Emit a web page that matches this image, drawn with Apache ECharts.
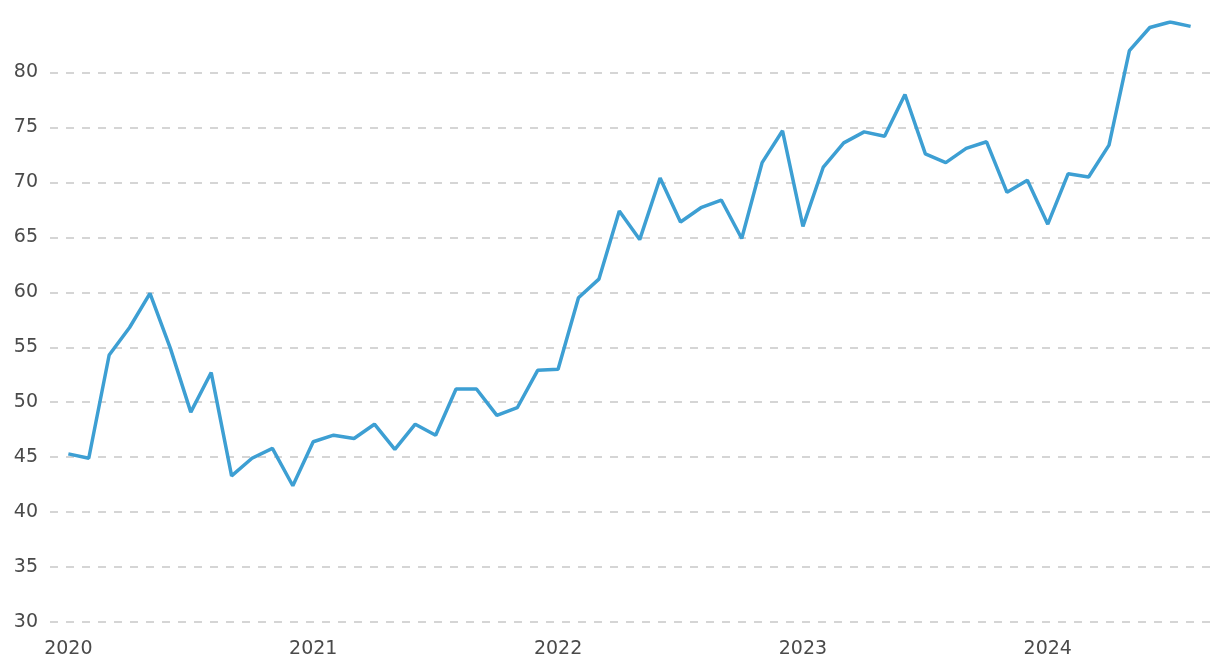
<!DOCTYPE html>
<html>
<head>
<meta charset="utf-8">
<script src="https://cdn.jsdelivr.net/npm/echarts@6/dist/echarts.min.js"></script>
<style>
html,body{margin:0;padding:0;background:#fff;}
#chart{width:1220px;height:672px;}
</style>
</head>
<body>
<div id="chart"></div>
<script>
// Monthly values, Jan 2020 .. Aug 2024
const startYear = 2020;
const values = [
  45.3, 44.9, 54.3, 56.8, 59.9, 54.9, 49.1, 52.7, 43.3, 44.9, 45.8, 42.4,
  46.4, 47.0, 46.7, 48.0, 45.7, 48.0, 47.0, 51.2, 51.2, 48.8, 49.5, 52.9,
  53.0, 59.5, 61.2, 67.4, 64.8, 70.4, 66.4, 67.7, 68.4, 64.9, 71.8, 74.7,
  66.0, 71.4, 73.6, 74.6, 74.2, 78.0, 72.6, 71.8, 73.1, 73.7, 69.1, 70.2,
  66.2, 70.8, 70.5, 73.4, 82.0, 84.1, 84.6, 84.2
];
const yearTicks = [0, 12, 24, 36, 48];
const yTicks = [30, 35, 40, 45, 50, 55, 60, 65, 70, 75, 80];

const seriesData = values.map((v, i) => [i, v]);

const chart = echarts.init(document.getElementById('chart'), null, {renderer: 'canvas'});
chart.setOption({
  animation: false,
  backgroundColor: '#ffffff',
  grid: {left: 50, right: 10, top: 22, bottom: 50, containLabel: false},
  xAxis: {
    type: 'value',
    min: -0.9,
    max: 55.95,
    axisLine: {show: false},
    axisTick: {show: false},
    splitLine: {show: false},
    axisLabel: {
      customValues: yearTicks,
      formatter: v => String(startYear + Math.round(v / 12)),
      color: '#4a4a4a',
      fontFamily: 'DejaVu Sans',
      fontSize: 19,
      margin: 18
    }
  },
  yAxis: {
    type: 'value',
    min: yTicks[0],
    max: 'dataMax',
    interval: 5,
    axisLine: {show: false},
    axisTick: {show: false},
    axisLabel: {
      color: '#4a4a4a',
      fontFamily: 'DejaVu Sans',
      fontSize: 19,
      margin: 12,
      showMaxLabel: false
    },
    splitLine: {
      show: true,
      showMaxLine: false,
      lineStyle: {color: '#c8c8c8', width: 1.5, type: [8, 8]}
    }
  },
  series: [{
    type: 'line',
    data: seriesData,
    showSymbol: false,
    symbol: 'none',
    lineStyle: {color: '#3d9fd3', width: 3.5},
    itemStyle: {color: '#3d9fd3'}
  }]
});
</script>
</body>
</html>
